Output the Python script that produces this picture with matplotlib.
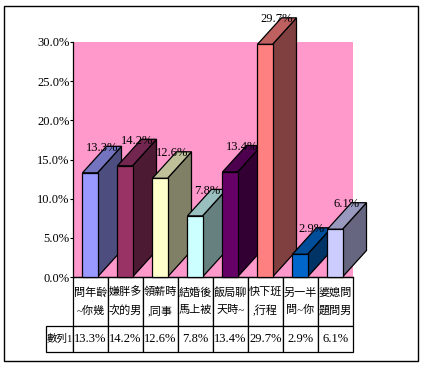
#!/usr/bin/python

import matplotlib
matplotlib.use("Agg")
import matplotlib.pyplot as plt
from matplotlib.patches import Polygon, Rectangle

plt.rcParams['font.family'] = ['Liberation Serif', 'Noto Sans CJK TC', 'DejaVu Sans']

# data
categories = ["問年齡\n~你幾", "嫌胖多\n次的男", "領薪時\n,同事", "結婚後\n馬上被",
              "飯局聊\n天時~", "快下班\n,行程", "另一半\n問~你", "婆媳問\n題問男"]
values = [13.3, 14.2, 12.6, 7.8, 13.4, 29.7, 2.9, 6.1]
series_name = "數列1"
yticks = [0, 5, 10, 15, 20, 25, 30]
front_colors = ["#9999FF", "#993366", "#FFFFCC", "#CCFFFF", "#660066", "#FF8080", "#0066CC", "#CCCCFF"]
top_colors = ["#7373BF", "#732650", "#BFBF99", "#99BFBF", "#4D004D", "#BF6060", "#004D99", "#9999BF"]
side_colors = ["#4D4D80", "#4D1A33", "#808066", "#668080", "#330033", "#804040", "#003366", "#666680"]

W, H = 423, 367
fig = plt.figure(figsize=(W / 100, H / 100), dpi=100)
ax = fig.add_axes([73 / W, 1 - 277 / H, 280 / W, 235 / H])
ax.set_facecolor("#FF99CC")
ax.set_xlim(0, 8)
ax.set_ylim(0, 30)

# outer frame
fig.add_artist(Rectangle((3.5 / W, 1 - 361 / H), 414.5 / W, 355.5 / H, transform=fig.transFigure,
                         fill=False, edgecolor="black", linewidth=1))

# fake 3d bars
off = 0.27
bw = 0.43
dx = 24 / 35
dy = 26.5 / 235 * 30
lw = 0.9
for i, v in enumerate(values):
    x0 = i + off
    x1 = x0 + bw
    side = [(x1, 0), (x1 + dx, dy), (x1 + dx, v + dy), (x1, v)]
    top = [(x0, v), (x0 + dx, v + dy), (x1 + dx, v + dy), (x1, v)]
    front = [(x0, 0), (x0, v), (x1, v), (x1, 0)]
    for pts, col in ((side, side_colors[i]), (top, top_colors[i]), (front, front_colors[i])):
        ax.add_patch(Polygon(pts, closed=True, facecolor=col, edgecolor="black",
                             linewidth=lw, clip_on=False, zorder=3 + i * 0.1))

for i, v in enumerate(values):
    ax.annotate("%.1f%%" % v, (i + off + bw / 2, v + dy), xytext=(8.5, -1), textcoords="offset points",
                ha="center", va="center", fontsize=9, zorder=5, annotation_clip=False)

ax.set_yticks(yticks)
ax.set_yticklabels(["%.1f%%" % t for t in yticks], fontsize=9)
ax.set_xticks([])
ax.tick_params(axis="y", length=2, width=0.8, pad=0.5)
for s in ("top", "right"):
    ax.spines[s].set_visible(False)
for s in ("left", "bottom"):
    ax.spines[s].set_linewidth(0.9)

# data table below the axis
labels = ["%.1f%%" % v for v in values]
tbl = ax.table(cellText=[categories, labels], rowLabels=["", series_name], cellLoc="center",
               rowLoc="center", bbox=[0, -75 / 235, 1, 75 / 235])
tbl.auto_set_font_size(False)
for (r, c), cell in tbl.get_celld().items():
    cell.set_linewidth(0.9)
    cell.set_height((48.7 if r == 0 else 26.3) / 235)
    cell.set_width((30.5 if c == -1 else 35) / 280)
    cell.PAD = 0.02
    txt = cell.get_text()
    if r == 0:
        txt.set_fontsize(8)
        txt.set_linespacing(1.9)
    elif c == -1:
        txt.set_fontsize(7.6)
    else:
        txt.set_fontsize(9)
tbl[(0, -1)].set_visible(False)
tbl[(1, -1)].get_text().set_ha("center")

fig.savefig("out.png", dpi=100)
